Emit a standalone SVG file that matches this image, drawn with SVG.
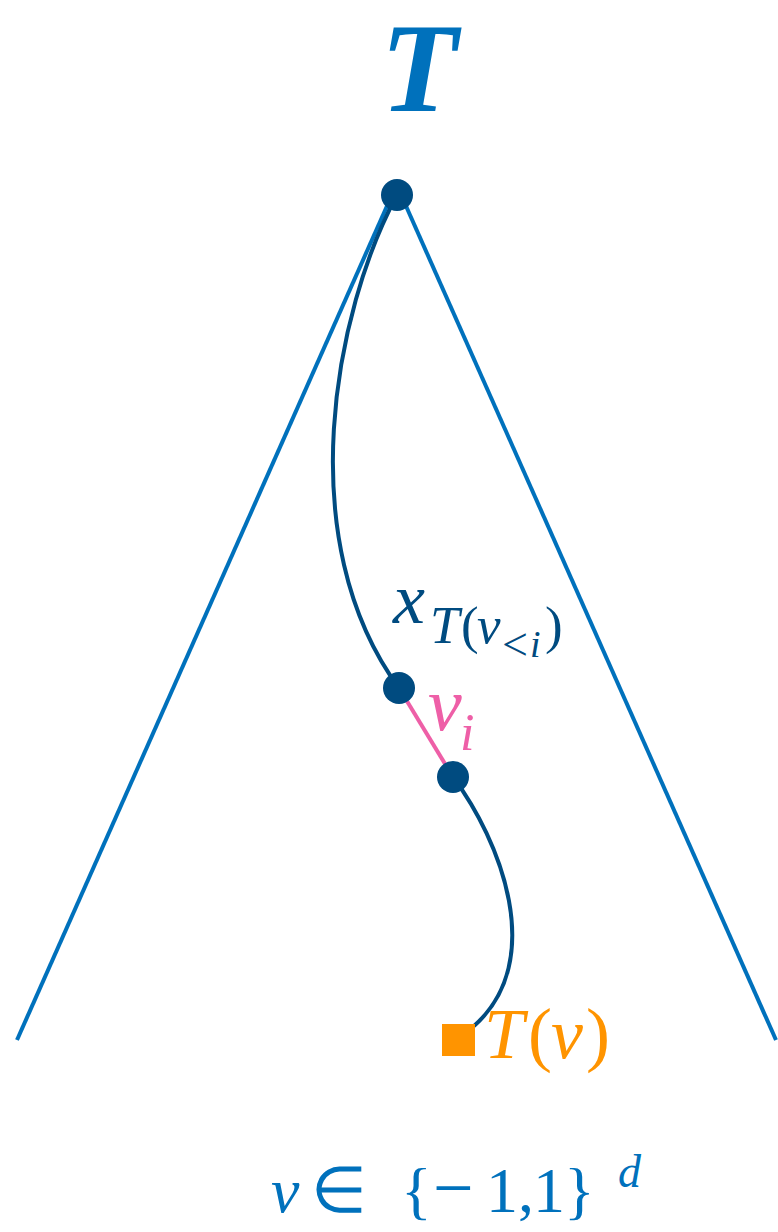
<svg xmlns="http://www.w3.org/2000/svg" width="778" height="1232" viewBox="0 0 778 1232">
<style>
text{font-family:"Liberation Serif",Tinos,"Times New Roman",serif}
.it{font-style:italic}
.blue{fill:#0071bc}
.dark{fill:#004b80}
.tri{stroke:#0071bc;stroke-width:4;fill:none}
.path{stroke:#004b80;stroke-width:4;fill:none}
</style>
<rect width="778" height="1232" fill="#fff"/>
<g id="title"><text class="it blue" x="419" y="111" font-size="126" font-weight="bold" text-anchor="middle">T</text></g>
<g id="connectors">
<line class="tri" x1="391" y1="197" x2="17" y2="1040"/>
<line class="tri" x1="402" y1="197" x2="776" y2="1040"/>
<path class="path" d="M397,195 C335,310 290,540 399,688"/>
<path class="path" d="M453,777 C500,840 548,960 474,1026"/>
<line x1="399" y1="688" x2="453" y2="777" stroke="#ee5fa7" stroke-width="4"/>
</g>
<g id="root"><circle class="dark" cx="397" cy="195" r="16"/></g>
<g id="node-x"><circle class="dark" cx="399" cy="688" r="16"/>
<text class="dark" font-size="72"><tspan class="it" x="393" y="623">x</tspan><tspan class="it" x="430" y="643" font-size="53">T</tspan><tspan x="461" y="643" font-size="53">(</tspan><tspan class="it" x="477" y="643" font-size="53">v</tspan><tspan x="502" y="660" font-size="46">&lt;</tspan><tspan class="it" x="530" y="657" font-size="38">i</tspan><tspan x="545" y="643" font-size="53">)</tspan></text>
</g>
<g id="node-vi"><circle class="dark" cx="453" cy="777" r="16"/>
<text class="it" fill="#ee5fa7" font-size="76"><tspan x="428" y="730">v</tspan><tspan x="460" y="750" font-size="52">i</tspan></text>
</g>
<g id="leaf"><rect x="442" y="1024" width="33" height="32" fill="#ff9400"/>
<text fill="#ff9400" font-size="72"><tspan class="it" x="484" y="1058">T</tspan><tspan x="528" y="1058">(</tspan><tspan class="it" x="551" y="1058">v</tspan><tspan x="586" y="1058">)</tspan></text>
</g>
<g id="caption"><text class="blue" font-size="64"><tspan class="it" x="271" y="1212">v</tspan><tspan x="311" y="1212">∈</tspan><tspan x="401" y="1212">{</tspan><tspan x="433" y="1212" font-size="72">−</tspan><tspan x="486" y="1212">1</tspan><tspan x="518" y="1212">,</tspan><tspan x="533" y="1212">1</tspan><tspan x="564" y="1212">}</tspan><tspan class="it" x="618" y="1187" font-size="46">d</tspan></text></g>
</svg>
